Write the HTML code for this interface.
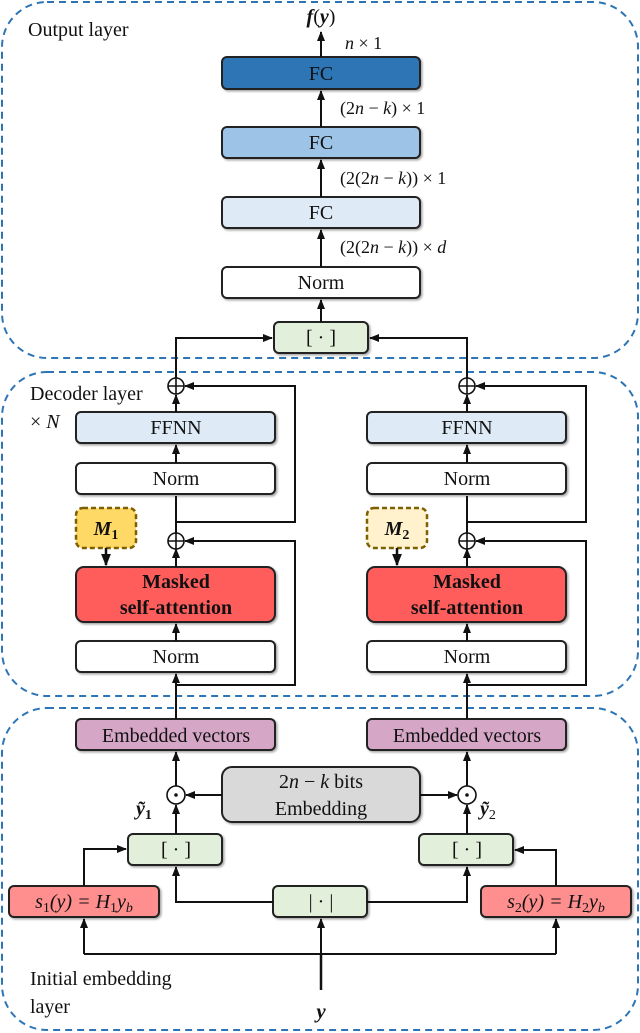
<!DOCTYPE html>
<html><head><meta charset="utf-8"><style>
html,body{margin:0;padding:0;background:#fff}
svg{display:block}
text{font-family:"Liberation Serif",serif;fill:#111}
</style></head><body>
<svg width="640" height="1033" viewBox="0 0 640 1033" xmlns="http://www.w3.org/2000/svg">
<defs>
<marker id="a" viewBox="0 0 10 10" refX="9" refY="5" markerWidth="5" markerHeight="5" orient="auto"><path d="M0,1 L10,5 L0,9 z" fill="#111"/></marker>
<filter id="sh" x="-10%" y="-10%" width="130%" height="140%"><feDropShadow dx="1.5" dy="1.5" stdDeviation="1" flood-color="#000" flood-opacity="0.35"/></filter>
</defs>
<g fill="none" stroke="#2e75b6" stroke-width="2" stroke-dasharray="7,5">
<rect x="2" y="2" width="636" height="356" rx="45"/>
<rect x="2" y="372" width="636" height="324" rx="45"/>
<rect x="2" y="708" width="636" height="322" rx="45"/>
</g>
<g font-size="20">
<text x="28" y="36">Output layer</text>
<text x="30" y="400">Decoder layer</text>
<text x="30" y="428">× <tspan font-style="italic">N</tspan></text>
<text x="30" y="985">Initial embedding</text>
<text x="30" y="1013">layer</text>
</g>
<g stroke="#222" stroke-width="2" filter="url(#sh)">
<rect x="222" y="57" width="198" height="32" rx="5" fill="#2e75b6"/>
<rect x="222" y="127" width="198" height="31" rx="5" fill="#9dc3e6"/>
<rect x="222" y="197" width="198" height="31" rx="5" fill="#deebf7"/>
<rect x="222" y="267" width="198" height="31" rx="5" fill="#fff"/>
<rect x="274" y="322" width="94" height="31" rx="5" fill="#e2efda"/>
<rect x="76" y="412" width="199" height="31" rx="5" fill="#deebf7"/>
<rect x="367" y="412" width="199" height="31" rx="5" fill="#deebf7"/>
<rect x="76" y="463" width="199" height="31" rx="5" fill="#fff"/>
<rect x="367" y="463" width="199" height="31" rx="5" fill="#fff"/>
<rect x="76" y="567" width="199" height="55" rx="8" fill="#ff5b5b"/>
<rect x="367" y="567" width="199" height="55" rx="8" fill="#ff5b5b"/>
<rect x="76" y="641" width="199" height="31" rx="5" fill="#fff"/>
<rect x="367" y="641" width="199" height="31" rx="5" fill="#fff"/>
<rect x="76" y="719" width="199" height="31" rx="5" fill="#d5a6c6"/>
<rect x="367" y="719" width="199" height="31" rx="5" fill="#d5a6c6"/>
<rect x="222" y="767" width="198" height="55" rx="10" fill="#d9d9d9"/>
<rect x="128" y="834" width="94" height="31" rx="5" fill="#e2efda"/>
<rect x="419" y="834" width="94" height="31" rx="5" fill="#e2efda"/>
<rect x="273" y="886" width="94" height="31" rx="5" fill="#e2efda"/>
<rect x="9" y="886" width="150" height="31" rx="5" fill="#ff8f8f"/>
<rect x="481" y="886" width="150" height="31" rx="5" fill="#ff8f8f"/>
</g>
<g stroke="#7f6000" stroke-width="2.5" stroke-dasharray="5,3">
<rect x="76" y="508" width="60" height="40" rx="7" fill="#ffd966"/>
<rect x="367" y="508" width="60" height="40" rx="7" fill="#fff2cc"/>
</g>
<g stroke="#111" stroke-width="2" fill="none">
<path d="M321 57 V32" marker-end="url(#a)"/>
<path d="M321 127 V91" marker-end="url(#a)"/>
<path d="M321 197 V160" marker-end="url(#a)"/>
<path d="M321 267 V230" marker-end="url(#a)"/>
<path d="M321 322 V300" marker-end="url(#a)"/>
<path d="M176 379 V338 H272" marker-end="url(#a)"/>
<path d="M467 379 V338 H370" marker-end="url(#a)"/>
<path d="M176 412 V395" marker-end="url(#a)"/>
<path d="M176 463 V445" marker-end="url(#a)"/>
<path d="M176 533 V496"/>
<path d="M176 522 H295 V386 H185" marker-end="url(#a)"/>
<path d="M176 567 V549" marker-end="url(#a)"/>
<path d="M176 641 V624" marker-end="url(#a)"/>
<path d="M176 719 V674" marker-end="url(#a)"/>
<path d="M176 685 H295 V541 H185" marker-end="url(#a)"/>
<path d="M106 548 V565" marker-end="url(#a)" stroke-width="2.5"/>
<path d="M467 412 V395" marker-end="url(#a)"/>
<path d="M467 463 V445" marker-end="url(#a)"/>
<path d="M467 533 V496"/>
<path d="M467 522 H586 V386 H476" marker-end="url(#a)"/>
<path d="M467 567 V549" marker-end="url(#a)"/>
<path d="M467 641 V624" marker-end="url(#a)"/>
<path d="M467 719 V674" marker-end="url(#a)"/>
<path d="M467 685 H586 V541 H476" marker-end="url(#a)"/>
<path d="M397 548 V565" marker-end="url(#a)" stroke-width="2.5"/>
<path d="M176 787 V752" marker-end="url(#a)"/>
<path d="M467 787 V752" marker-end="url(#a)"/>
<path d="M222 795 H186" marker-end="url(#a)"/>
<path d="M420 795 H457" marker-end="url(#a)"/>
<path d="M176 834 V805" marker-end="url(#a)"/>
<path d="M467 834 V805" marker-end="url(#a)"/>
<path d="M84 886 V849 H126" marker-end="url(#a)"/>
<path d="M556 886 V850 H515" marker-end="url(#a)"/>
<path d="M273 902 H176 V867" marker-end="url(#a)"/>
<path d="M367 902 H467 V867" marker-end="url(#a)"/>
<path d="M84 954 H556"/>
<path d="M84 954 V919" marker-end="url(#a)"/>
<path d="M556 954 V919" marker-end="url(#a)"/>
<path d="M321 954 V919" marker-end="url(#a)"/>
<path d="M321 990 V954" stroke-width="2.5"/>
</g>
<g stroke="#111" stroke-width="1.6" fill="#fff">
<circle cx="176" cy="386" r="8"/><circle cx="467" cy="386" r="8"/>
<circle cx="176" cy="541" r="8"/><circle cx="467" cy="541" r="8"/>
<circle cx="176" cy="795" r="9"/><circle cx="467" cy="795" r="9"/>
</g>
<g stroke="#111" stroke-width="1.6">
<path d="M168 386 H184 M176 378 V394 M459 386 H475 M467 378 V394"/>
<path d="M168 541 H184 M176 533 V549 M459 541 H475 M467 533 V549"/>
</g>
<circle cx="176" cy="795" r="1.8" fill="#111"/><circle cx="467" cy="795" r="1.8" fill="#111"/>
<g font-size="20" text-anchor="middle">
<text x="321" y="80">FC</text>
<text x="321" y="149">FC</text>
<text x="321" y="219">FC</text>
<text x="321" y="289">Norm</text>
<text x="321" y="344">[ · ]</text>
<text x="176" y="434">FFNN</text><text x="467" y="434">FFNN</text>
<text x="176" y="485">Norm</text><text x="467" y="485">Norm</text>
<text x="176" y="663">Norm</text><text x="467" y="663">Norm</text>
<text x="176" y="742">Embedded vectors</text><text x="467" y="742">Embedded vectors</text>
<text x="321" y="788"><tspan>2</tspan><tspan font-style="italic">n</tspan> − <tspan font-style="italic">k</tspan> bits</text>
<text x="321" y="815">Embedding</text>
<text x="176" y="856">[ · ]</text><text x="467" y="856">[ · ]</text>
<text x="321" y="908">| · |</text>
<text x="84" y="908" font-style="italic">s<tspan font-size="14" font-style="normal" dy="4">1</tspan><tspan dy="-4">(y) = H</tspan><tspan font-size="14" font-style="normal" dy="4">1</tspan><tspan dy="-4">y</tspan><tspan font-size="14" dy="4">b</tspan></text>
<text x="556" y="908" font-style="italic">s<tspan font-size="14" font-style="normal" dy="4">2</tspan><tspan dy="-4">(y) = H</tspan><tspan font-size="14" font-style="normal" dy="4">2</tspan><tspan dy="-4">y</tspan><tspan font-size="14" dy="4">b</tspan></text>
<g font-weight="bold">
<text x="176" y="588">Masked</text><text x="176" y="614">self-attention</text>
<text x="467" y="588">Masked</text><text x="467" y="614">self-attention</text>
<text x="106" y="535" font-style="italic">M<tspan font-size="14" font-style="normal" dy="4">1</tspan></text>
<text x="397" y="535" font-style="italic">M<tspan font-size="14" font-style="normal" dy="4">2</tspan></text>
<text x="321" y="23" font-style="italic">f<tspan font-style="normal" font-weight="normal">(</tspan>y<tspan font-style="normal" font-weight="normal">)</tspan></text>
<text x="321" y="1018" font-style="italic" font-size="21">y</text>
</g>
</g>
<g font-size="18" font-style="italic">
<text x="345" y="49">n <tspan font-style="normal">× 1</tspan></text>
<text x="340" y="114"><tspan font-style="normal">(2</tspan>n <tspan font-style="normal">−</tspan> k<tspan font-style="normal">) × 1</tspan></text>
<text x="340" y="184"><tspan font-style="normal">(2(2</tspan>n <tspan font-style="normal">−</tspan> k<tspan font-style="normal">)) × 1</tspan></text>
<text x="340" y="253"><tspan font-style="normal">(2(2</tspan>n <tspan font-style="normal">−</tspan> k<tspan font-style="normal">)) ×</tspan> d</text>
</g>
<g font-size="20" font-weight="bold" font-style="italic">
<text x="136" y="815">ỹ<tspan font-size="14" font-style="normal" dy="4">1</tspan></text>
<text x="480" y="815">ỹ<tspan font-size="14" font-style="normal" font-weight="normal" dy="4">2</tspan></text>
</g>
</svg>
</body></html>
